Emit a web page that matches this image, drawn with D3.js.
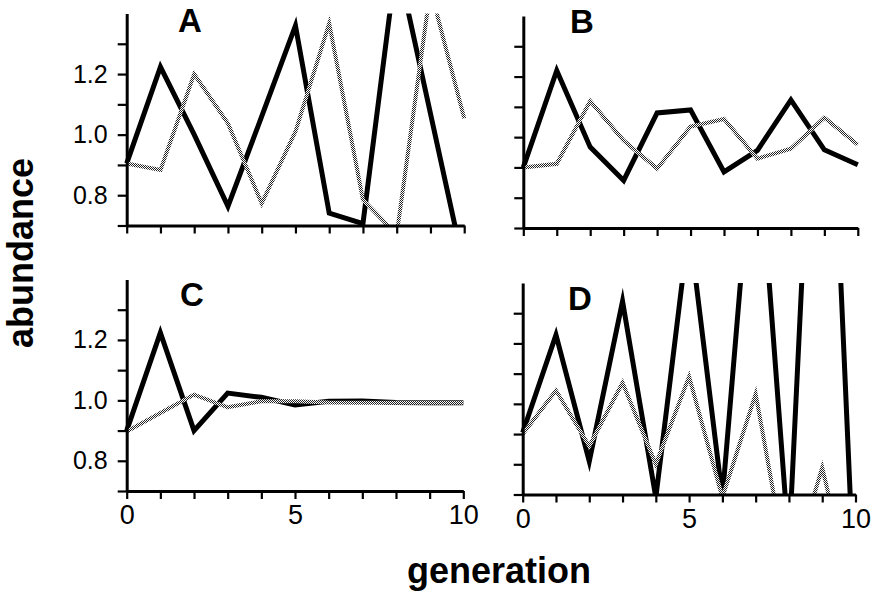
<!DOCTYPE html>
<html>
<head>
<meta charset="utf-8">
<script src="https://cdn.jsdelivr.net/npm/d3@7"></script>
<style>
  html, body { margin: 0; padding: 0; background: #fff; }
  svg { display: block; }
  text { font-family: "Liberation Sans", Arial, Helvetica, sans-serif; fill: #000; }
</style>
</head>
<body>
<svg id="chart" width="875" height="593"></svg>
<script>
// ---------- data ----------
const generations = [0, 1, 2, 3, 4, 5, 6, 7, 8, 9, 10];
const panelNames = ["A", "B", "C", "D"];

const seriesA_black = [0.905, 1.224, 1.0, 0.763, 1.06, 1.36, 0.741, 0.706, 1.58, 1.07, 0.56];
const seriesA_gray  = [0.905, 0.883, 1.2, 1.037, 0.773, 1.01, 1.367, 0.785, 0.67, 1.48, 1.054];

const seriesB_black = [0.90, 1.22, 0.967, 0.857, 1.08, 1.09, 0.885, 0.956, 1.123, 0.958, 0.909];
const seriesB_gray  = [0.90, 0.912, 1.119, 0.989, 0.896, 1.035, 1.06, 0.929, 0.962, 1.064, 0.975];

const seriesC_black = [0.90, 1.224, 0.90, 1.024, 1.01, 0.985, 0.997, 0.998, 0.993, 0.992, 0.992];
const seriesC_gray  = [0.897, 0.958, 1.019, 0.977, 0.997, 0.997, 0.993, 0.992, 0.992, 0.992, 0.992];

const seriesD_black = [0.905, 1.228, 0.81, 1.34, 0.69, 1.59, 0.69, 2.0, 0.53, 2.8, 0.3];
const seriesD_gray  = [0.90, 1.044, 0.86, 1.07, 0.80, 1.09, 0.69, 1.033, 0.42, 0.789, 0.32];

const yTickValues = [0.7, 0.8, 0.9, 1.0, 1.1, 1.2, 1.3];
const yTickLabels = [0.8, 1.0, 1.2];
const xTickValues = generations;
const xTickLabels = [0, 5, 10];
const yDomain = [0.7, 1.4];
const xDomain = [0, 10];

const blackSeries = [seriesA_black, seriesB_black, seriesC_black, seriesD_black];
const graySeries  = [seriesA_gray, seriesB_gray, seriesC_gray, seriesD_gray];

// ---------- layout (pixel positions) ----------
const layout = [
  { x0: 126.7, x1: 464.2, yBot: 225.5, yTop: 13.5, yLabels: true,  xLabels: false, lx: 178, ly: 32 },
  { x0: 523.3, x1: 857.8, yBot: 228.0, yTop: 16.0, yLabels: false, xLabels: false, lx: 570, ly: 33 },
  { x0: 126.7, x1: 463.3, yBot: 491.0, yTop: 279.5, yLabels: true, xLabels: true,  lx: 180, ly: 306 },
  { x0: 522.7, x1: 855.5, yBot: 494.5, yTop: 283.0, yLabels: false, xLabels: true, lx: 568, ly: 310 }
];

const svg = d3.select("#chart");
svg.append("rect").attr("width", 875).attr("height", 593).attr("fill", "#fff");

const defs = svg.append("defs");
const pat = defs.append("pattern")
  .attr("id", "halftone").attr("patternUnits", "userSpaceOnUse")
  .attr("width", 2).attr("height", 2);
pat.append("rect").attr("width", 2).attr("height", 2).attr("fill", "#ffffff");
pat.append("rect").attr("x", 0).attr("y", 0).attr("width", 1).attr("height", 1).attr("fill", "#222222");
pat.append("rect").attr("x", 1).attr("y", 1).attr("width", 1).attr("height", 1).attr("fill", "#222222");

const fmt = d3.format(".1f");

layout.forEach((L, i) => {
  const x = d3.scaleLinear().domain(xDomain).range([L.x0, L.x1]);
  const y = d3.scaleLinear().domain(yDomain).range([L.yBot, L.yTop]);
  const g = svg.append("g");

  const clipId = "clip" + i;
  defs.append("clipPath").attr("id", clipId)
    .append("rect")
    .attr("x", x(0) - 4).attr("y", y(1.4))
    .attr("width", x(10) - x(0) + 8).attr("height", y(0.7) - y(1.4));

  const line = d3.line().x((d, j) => x(generations[j])).y(d => y(d));

  const plot = g.append("g").attr("clip-path", `url(#${clipId})`);
  plot.append("path")
    .datum(blackSeries[i])
    .attr("d", line)
    .attr("fill", "none")
    .attr("stroke", "#000")
    .attr("stroke-width", 5)
    .attr("stroke-linejoin", "miter")
    .attr("stroke-miterlimit", 10);
  plot.append("path")
    .datum(graySeries[i])
    .attr("d", line)
    .attr("fill", "none")
    .attr("stroke", "url(#halftone)")
    .attr("stroke-width", 4)
    .attr("stroke-linejoin", "miter")
    .attr("stroke-miterlimit", 10);

  // y axis
  const yAxis = d3.axisLeft(y)
    .tickValues(yTickValues)
    .tickSize(9)
    .tickSizeOuter(0)
    .tickPadding(10)
    .tickFormat(d => (L.yLabels && yTickLabels.some(v => Math.abs(v - d) < 1e-9)) ? fmt(d) : "");
  const ya = g.append("g").attr("transform", `translate(${x(0)},0)`).call(yAxis);
  ya.select(".domain").attr("stroke", "#000").attr("stroke-width", 3);
  ya.selectAll(".tick line").attr("stroke", "#000").attr("stroke-width", 2.2);
  ya.selectAll(".tick text").attr("font-size", 25).attr("fill", "#000")
    .style("font-family", '"Liberation Sans", Arial, sans-serif');

  // x axis
  const xAxis = d3.axisBottom(x)
    .tickValues(xTickValues)
    .tickSize(8)
    .tickSizeOuter(0)
    .tickPadding(6)
    .tickFormat(d => (L.xLabels && xTickLabels.includes(d)) ? String(d) : "");
  const xa = g.append("g").attr("transform", `translate(0,${y(0.7)})`).call(xAxis);
  xa.select(".domain").attr("stroke", "#000").attr("stroke-width", 3);
  xa.selectAll(".tick line").attr("stroke", "#000").attr("stroke-width", 2.2);
  xa.selectAll(".tick text").attr("font-size", 27).attr("fill", "#000")
    .style("font-family", '"Liberation Sans", Arial, sans-serif');

  // panel letter
  svg.append("text")
    .attr("x", L.lx).attr("y", L.ly)
    .attr("font-size", 33).attr("font-weight", "bold")
    .text(panelNames[i]);
});

// axis titles
svg.append("text")
  .attr("transform", "translate(33,253) rotate(-90)")
  .attr("text-anchor", "middle")
  .attr("font-size", 36).attr("font-weight", "bold")
  .text("abundance");

svg.append("text")
  .attr("x", 499).attr("y", 583)
  .attr("text-anchor", "middle")
  .attr("font-size", 36).attr("font-weight", "bold")
  .text("generation");
</script>
</body>
</html>
